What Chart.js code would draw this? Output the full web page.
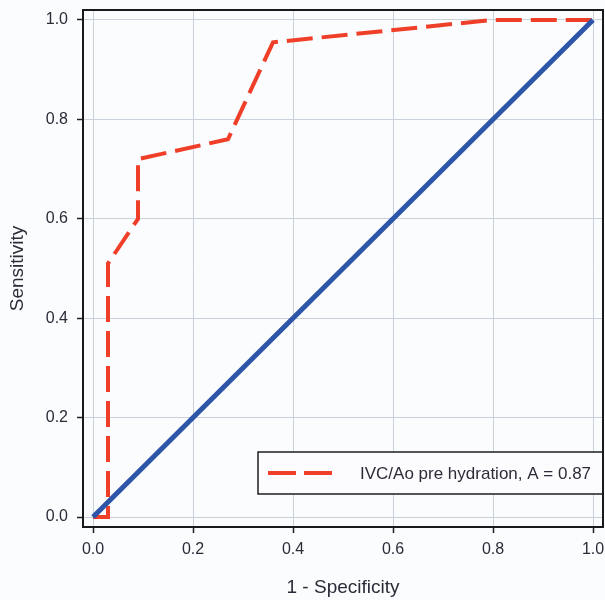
<!DOCTYPE html>
<html>
<head>
<meta charset="utf-8">
<script src="https://cdn.jsdelivr.net/npm/chart.js@4/dist/chart.umd.min.js"></script>
<style>
  html, body { margin: 0; padding: 0; background: #fbfcfe; }
  #wrap { width: 605px; height: 600px; position: relative; }
</style>
</head>
<body>
<div id="wrap"><canvas id="c" width="605" height="600"></canvas></div>
<script>
// ---- data ----
const rocFpr = [0.0, 0.03, 0.03, 0.09, 0.09, 0.27, 0.36, 0.80, 1.0];
const rocTpr = [0.0, 0.0, 0.51, 0.60, 0.72, 0.76, 0.955, 1.0, 1.0];
const refX = [0.0, 1.0];
const refY = [0.0, 1.0];
const tickValues = [0.0, 0.2, 0.4, 0.6, 0.8, 1.0];
const legendLabel = 'IVC/Ao pre hydration, A = 0.87';
const xTitle = '1 - Specificity';
const yTitle = 'Sensitivity';

const RED = '#f03f28';
const BLUE = '#2d56a9';
const TEXT = '#2b2c38';
const FONT = "'Liberation Sans', Arial, sans-serif";

const rocPoints = rocFpr.map((x, i) => ({ x: x, y: rocTpr[i] }));
const refPoints = refX.map((x, i) => ({ x: x, y: refY[i] }));

const bgPlugin = {
  id: 'bg',
  beforeDraw(chart) {
    const ctx = chart.ctx;
    ctx.save();
    ctx.fillStyle = '#fbfcfe';
    ctx.fillRect(0, 0, chart.width, chart.height);
    ctx.restore();
  }
};

const framePlugin = {
  id: 'frame',
  afterDraw(chart) {
    const ctx = chart.ctx;
    const a = chart.chartArea;
    ctx.save();
    // legend box
    const lx = 258, lw = a.right - lx;
    const ly = a.bottom - 75, lh = 42;
    ctx.fillStyle = '#fcfcfe';
    ctx.fillRect(lx, ly, lw, lh);
    ctx.strokeStyle = '#1e1e1e';
    ctx.lineWidth = 1.5;
    ctx.strokeRect(lx, ly, lw, lh);
    const cy = ly + lh / 2;
    ctx.strokeStyle = RED;
    ctx.lineWidth = 4;
    ctx.setLineDash([28, 8]);
    ctx.beginPath();
    ctx.moveTo(lx + 10, cy);
    ctx.lineTo(lx + 74, cy);
    ctx.stroke();
    ctx.setLineDash([]);
    ctx.fillStyle = TEXT;
    ctx.font = "17px " + FONT;
    ctx.textBaseline = 'middle';
    ctx.textAlign = 'left';
    ctx.fillText(legendLabel, lx + 102, cy + 1);
    // frame
    ctx.strokeStyle = '#1a1a1a';
    ctx.lineWidth = 2;
    ctx.strokeRect(a.left, a.top, a.right - a.left, a.bottom - a.top);
    ctx.restore();
  }
};

const axisCommon = (titleText, isY) => ({
  type: 'linear',
  min: -0.02,
  max: 1.02,
  afterBuildTicks: (scale) => { scale.ticks = tickValues.map(v => ({ value: v })); },
  grid: {
    color: '#c9d2da',
    lineWidth: 1,
    drawTicks: true,
    tickLength: 6,
    tickColor: '#222',
    tickWidth: 1.5
  },
  border: { display: false },
  ticks: {
    color: TEXT,
    font: { family: FONT, size: 16 },
    padding: isY ? 9 : 7,
    callback: (v) => Number(v).toFixed(1),
    maxRotation: 0
  },
  title: {
    display: true,
    text: titleText,
    color: TEXT,
    font: { family: FONT, size: 19 },
    padding: isY ? { top: 6, bottom: 0 } : { top: 0, bottom: 1 }
  }
});

const xOpts = axisCommon(xTitle, false);
xOpts.afterFit = (s) => { s.height = 73; s.paddingLeft = 0; s.paddingRight = 0; };
const yOpts = axisCommon(yTitle, true);
yOpts.afterFit = (s) => { s.width = 83; s.paddingTop = 0; s.paddingBottom = 0; };

new Chart(document.getElementById('c'), {
  type: 'line',
  data: {
    datasets: [
      {
        label: 'Reference',
        data: refPoints,
        borderColor: BLUE,
        borderWidth: 5,
        pointRadius: 0,
        fill: false,
        tension: 0
      },
      {
        label: legendLabel,
        data: rocPoints,
        borderColor: RED,
        borderWidth: 4,
        borderDash: [26, 9],
        pointRadius: 0,
        fill: false,
        tension: 0
      }
    ]
  },
  options: {
    responsive: false,
    animation: false,
    devicePixelRatio: 1,
    layout: { padding: { top: 10, right: 2, left: 0, bottom: 0 } },
    plugins: {
      legend: { display: false },
      tooltip: { enabled: false }
    },
    scales: { x: xOpts, y: yOpts }
  },
  plugins: [bgPlugin, framePlugin]
});
</script>
</body>
</html>
